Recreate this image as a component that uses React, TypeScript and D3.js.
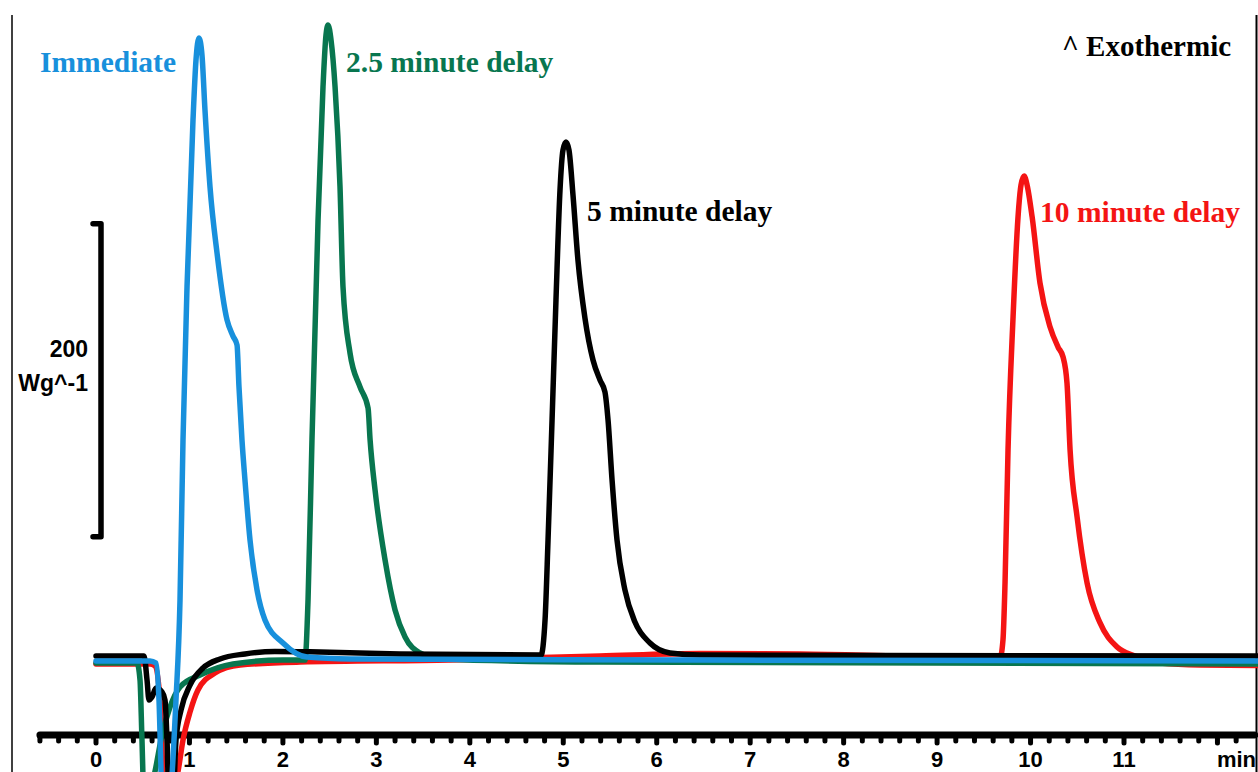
import React from "react";
import * as d3 from "d3";

// time in minutes, heat flow in W/g (relative)
const immediate: [number, number][] = [
  [0, -0.3], [0.578, -0.3], [0.642, -1.6], [0.674, -25], [0.706, -83], [0.78, -89],
  [0.856, -25], [0.899, 38.7], [0.931, 140.9], [0.974, 238.7], [1.038, 345.4],
  [1.07, 383.7], [1.102, 397.8], [1.134, 386.9], [1.166, 351.8], [1.22, 302.6],
  [1.295, 260.4], [1.402, 217.6], [1.466, 207.3], [1.509, 201.6], [1.53, 174.8],
  [1.562, 140.9], [1.594, 115.3], [1.648, 77], [1.723, 45], [1.808, 25.9],
  [2.001, 11.2], [2.258, 2.2], [2.718, 1.0], [6.463, 0.3], [12.44, -0.3],
];

const delay25: [number, number][] = [
  [0, -1.6], [0.439, -1.6], [0.471, -12.5], [0.492, -50.8], [0.514, -89], [0.556, -89],
  [0.631, -71], [0.706, -47.6], [0.792, -29.7], [0.899, -16.9], [1.113, -9.3],
  [1.466, -2.2], [2.001, 0.3], [2.236, 0.3], [2.269, 38.7], [2.311, 140.9],
  [2.376, 281.5], [2.429, 366.5], [2.461, 399.7], [2.483, 406.1], [2.515, 396.5],
  [2.558, 366.5], [2.611, 302.6], [2.643, 238.7], [2.718, 196.5], [2.825, 174.8],
  [2.911, 161.3], [2.933, 140.9], [2.986, 108.9], [3.093, 64.2], [3.2, 32.3],
  [3.307, 15], [3.467, 4.8], [3.681, 1.0], [5.393, -1], [12.44, -2.2],
];

const delay5: [number, number][] = [
  [0, 2.9], [0.514, 2.9], [0.546, -12.5], [0.567, -25.2], [0.599, -23.3], [0.642, -17.6],
  [0.706, -20.1], [0.738, -25.2], [0.76, -50.8], [0.781, -89], [0.824, -89],
  [0.856, -50.8], [0.91, -31.6], [1.006, -15.7], [1.145, -4.8], [1.327, 1],
  [1.594, 4.2], [1.915, 5.8], [2.397, 5.4], [3.253, 4.2], [4.762, 3.5], [4.805, 25.9],
  [4.837, 77], [4.88, 153.7], [4.922, 230.4], [4.965, 300.6], [4.997, 326.2],
  [5.029, 331.3], [5.061, 326.2], [5.104, 297.4], [5.157, 255.9], [5.232, 218.8],
  [5.318, 192], [5.393, 179.2], [5.446, 171.6], [5.479, 153.7], [5.522, 115.3],
  [5.575, 77], [5.66, 45], [5.767, 24.6], [5.928, 11.2], [6.142, 4.8], [6.463, 3.5],
  [12.44, 2.9],
];

const delay10: [number, number][] = [
  [0, -2.2], [0.578, -2.2], [0.631, -3.5], [0.685, -25.2], [0.728, -83], [0.792, -89],
  [0.877, -71], [0.931, -50.8], [1.006, -32.9], [1.091, -18.8], [1.273, -8],
  [1.541, -2.9], [2.183, -1], [3.788, 0.3], [5.393, 2.9], [6.463, 4.5], [7.533, 4.2],
  [8.603, 2.9], [9.673, 1.6], [9.705, 13.1], [9.727, 49.5], [9.759, 134.5],
  [9.813, 219.5], [9.866, 283.4], [9.898, 303.8], [9.931, 309.6], [9.963, 303.8],
  [10.017, 283.4], [10.101, 241.2], [10.209, 213.1], [10.294, 200.3], [10.348, 193.9],
  [10.39, 177.3], [10.423, 134.5], [10.498, 91.7], [10.605, 49.5], [10.744, 24],
  [10.926, 8.6], [11.118, 2.9], [11.386, -1.6], [11.814, -2.9], [12.43, -3.2],
];

const tickLabels = ["0", "1", "2", "3", "4", "5", "6", "7", "8", "9", "10", "11"];

// scale bar spans 200 W/g
const scaleBar = [79, 279];

const series = [
  { name: "10 minute delay", data: delay10, color: "#f41414", lx: 1040, ly: 222 },
  { name: "2.5 minute delay", data: delay25, color: "#08764f", lx: 346, ly: 72 },
  { name: "5 minute delay", data: delay5, color: "#000000", lx: 587, ly: 221 },
  { name: "Immediate", data: immediate, color: "#1890dc", lx: 40, ly: 72 },
];

export default function App() {
  const width = 1258;
  const height = 772;

  const x = d3.scaleLinear().domain([0, 11]).range([96, 1124]);
  const y = d3.scaleLinear().domain([0, 200]).range([660.5, 347.5]);

  const line = d3
    .line<[number, number]>()
    .x(d => x(d[0]))
    .y(d => y(d[1]))
    .curve(d3.curveMonotoneX);

  const axisY = 735;
  const ticks = d3.range(-3, 62).map(i => i / 5);

  const serif = "'Liberation Serif', 'Times New Roman', serif";
  const sans = "'Liberation Sans', Arial, sans-serif";

  return (
    <svg
      width={width}
      height={height}
      style={{ position: "absolute", left: 0, top: 0, background: "#fff" }}
    >
      {/* frame */}
      <line x1={12} y1={15} x2={12} y2={height} stroke="#000" strokeWidth={1.5} />
      <line x1={1256.5} y1={15} x2={1256.5} y2={height} stroke="#000" strokeWidth={2} />

      {/* time axis */}
      <line
        x1={x(-0.6)}
        x2={x(12.4)}
        y1={axisY}
        y2={axisY}
        stroke="#000"
        strokeWidth={7}
        strokeLinecap="round"
      />
      {ticks.map((t, i) => (
        <line
          key={i}
          x1={x(t)}
          x2={x(t)}
          y1={axisY}
          y2={axisY + (Math.abs(t - Math.round(t)) < 1e-6 ? 8 : 6)}
          stroke="#000"
          strokeWidth={5}
          strokeLinecap="round"
        />
      ))}
      {tickLabels.map((l, i) => (
        <text
          key={l}
          x={x(i)}
          y={767}
          textAnchor="middle"
          fontFamily={sans}
          fontWeight="bold"
          fontSize={22}
        >
          {l}
        </text>
      ))}
      <text x={1256} y={767} textAnchor="end" fontFamily={sans} fontWeight="bold" fontSize={22}>
        min
      </text>

      {/* scale bar */}
      <path
        d={`M${93},${y(scaleBar[1])}H${101}V${y(scaleBar[0])}H${93}`}
        fill="none"
        stroke="#000"
        strokeWidth={5.5}
        strokeLinecap="round"
        strokeLinejoin="round"
      />
      <text x={88} y={357} textAnchor="end" fontFamily={sans} fontWeight="bold" fontSize={23}>
        200
      </text>
      <text x={88} y={391} textAnchor="end" fontFamily={sans} fontWeight="bold" fontSize={23}>
        Wg^-1
      </text>

      {/* curves */}
      {series.map(s => (
        <path
          key={s.name}
          d={line(s.data) || ""}
          fill="none"
          stroke={s.color}
          strokeWidth={5.5}
          strokeLinejoin="round"
          strokeLinecap="round"
        />
      ))}

      {/* labels */}
      {series.map(s => (
        <text
          key={"l" + s.name}
          x={s.lx}
          y={s.ly}
          fill={s.color}
          fontFamily={serif}
          fontWeight="bold"
          fontSize={29.5}
        >
          {s.name}
        </text>
      ))}
      <text x={1062} y={56} fontFamily={serif} fontWeight="bold" fontSize={29}>
        ^ Exothermic
      </text>
    </svg>
  );
}
